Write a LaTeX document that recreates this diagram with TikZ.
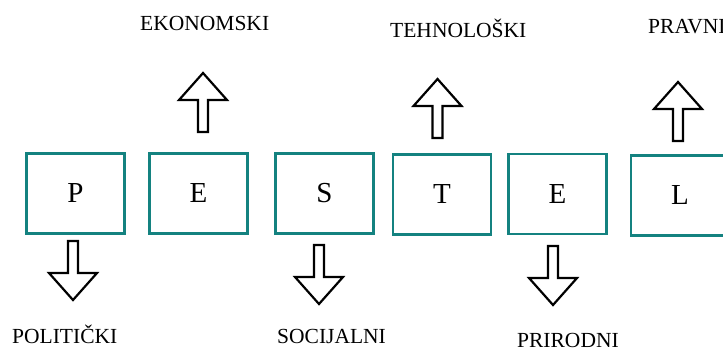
\documentclass[tikz,border=0pt]{standalone}
\usepackage{fontspec}
\setmainfont{Liberation Serif}
\usepackage{tikz}

\definecolor{pestteal}{RGB}{20,130,128}

\tikzset{
	factor/.style={draw=pestteal, line width=2.8pt, minimum width=98pt, minimum height=80pt, inner sep=0pt, font=\fontsize{29}{34}\selectfont},
	area/.style={anchor=base west, inner sep=0pt, font=\fontsize{21.5}{25}\selectfont},
	blockarrow/.pic={\draw[line width=2.2pt, miter limit=10] (-5,0) -- (-5,32) -- (-24,32) -- (0,59) -- (24,32) -- (5,32) -- (5,0) -- cycle;}
}

\begin{document}
\begin{tikzpicture}[x=1pt, y=-1pt]
	\useasboundingbox (0,0) rectangle (723,351);
	
	\node [factor] (pol) at (75.5,193.5) {P};
	\node [factor] (eko) at (198.5,193.5) {E};
	\node [factor] (soc) at (324.5,193.5) {S};
	\node [factor] (teh) at (442,194.5) {T};
	\node [factor] (pri) at (557.5,194) {E};
	\node [factor] (pra) at (680,195.5) {L};
	
	\node [area] (ekonomski)  at (140,30) {EKONOMSKI};
	\node [area] (tehnoloski) at (390,37) {TEHNOLOŠKI};
	\node [area] (pravni)     at (648,33) {PRAVNI};
	\node [area] (politicki)  at (12,343) {POLITIČKI};
	\node [area] (socijalni)  at (277,343) {SOCIJALNI};
	\node [area] (prirodni)   at (517,347) {PRIRODNI};
	
	\pic at (73,241) {blockarrow};
	\pic at (319,245) {blockarrow};
	\pic at (553,246) {blockarrow};
	
	\pic [rotate=180] at (203,132) {blockarrow};
	\pic [rotate=180] at (437.5,138) {blockarrow};
	\pic [rotate=180] at (678,141) {blockarrow};
\end{tikzpicture}
\end{document}
